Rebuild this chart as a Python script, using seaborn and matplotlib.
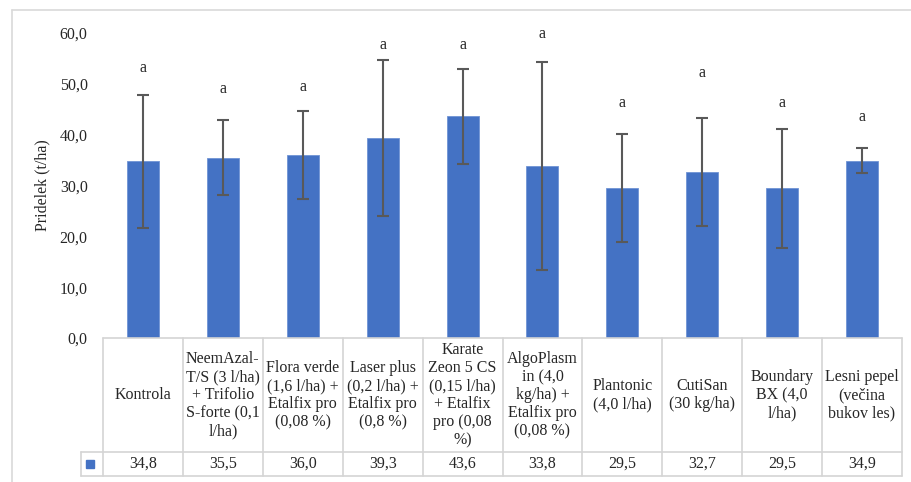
import pandas as pd
import seaborn as sns
import matplotlib.pyplot as plt
from matplotlib.lines import Line2D
from matplotlib.patches import Rectangle
from matplotlib.transforms import blended_transform_factory
from matplotlib.ticker import FuncFormatter

# categories (table header text, wrapped as in the source)
labels = ['Kontrola',
          'NeemAzal-\nT/S (3 l/ha)\n+ Trifolio\nS-forte (0,1\nl/ha)',
          'Flora verde\n(1,6 l/ha) +\nEtalfix pro\n(0,08 %)',
          'Laser plus\n(0,2 l/ha) +\nEtalfix pro\n(0,8 %)',
          'Karate\nZeon 5 CS\n(0,15 l/ha)\n+ Etalfix\npro (0,08\n%)',
          'AlgoPlasm\nin (4,0\nkg/ha) +\nEtalfix pro\n(0,08 %)',
          'Plantonic\n(4,0 l/ha)',
          'CutiSan\n(30 kg/ha)',
          'Boundary\nBX (4,0\nl/ha)',
          'Lesni pepel\n(večina\nbukov les)']
yields = [34.8, 35.5, 36.0, 39.3, 43.6, 33.8, 29.5, 32.7, 29.5, 34.9]
errors = [13.1, 7.3, 8.6, 15.3, 9.4, 20.4, 10.6, 10.6, 11.7, 2.5]
letters = ['a'] * 10
letter_y = [53.2, 49.0, 49.3, 57.7, 57.7, 59.8, 46.2, 52.2, 46.2, 43.5]

df = pd.DataFrame({'cat': [str(i) for i in range(10)], 'val': yields})

sns.set_style('white')
plt.rcParams['font.family'] = ['Liberation Serif', 'DejaVu Serif']

W, H = 911, 482
fig = plt.figure(figsize=(W / 100, H / 100), dpi=100)

def fy(p):
    # figure pixel row -> figure fraction
    return 1 - p / H

ax = fig.add_axes([103 / W, fy(338), (902 - 103) / W, (338 - 33) / H])
blue = '#4472C4'
sns.barplot(data=df, x='cat', y='val', color=blue, width=0.4, ax=ax,
            saturation=1, errorbar=None, edgecolor='#6f93d4', linewidth=0.6)
ax.errorbar(range(10), yields, yerr=errors, fmt='none', ecolor='#595959',
            elinewidth=1.5, capsize=4.5, capthick=1.5)
for i, (t, yy) in enumerate(zip(letters, letter_y)):
    ax.text(i, yy, t, ha='center', va='center', fontsize=11.5, clip_on=False)

ax.set_xlim(-0.5, 9.5)
ax.set_ylim(0, 60)
ax.set_yticks(range(0, 61, 10))
ax.yaxis.set_major_formatter(FuncFormatter(lambda v, p: f'{v:.1f}'.replace('.', ',')))
ax.tick_params(axis='y', length=0, pad=11, labelsize=11.5)
ax.set_xticks([])
ax.set_xlabel('')
ax.set_ylabel('Pridelek (t/ha)', fontsize=11.5, labelpad=7)
for s in ax.spines.values():
    s.set_visible(False)

# data table below the plot
tr = blended_transform_factory(ax.transData, fig.transFigure)
grid = '#d4d4d4'
key_x = -0.5 - 22 / 80
top, mid, bot = fy(338), fy(452), fy(476)

def hline(x0, x1, y):
    fig.add_artist(Line2D([x0, x1], [y, y], color=grid, lw=1.2, transform=tr))

def vline(x, y0, y1):
    fig.add_artist(Line2D([x, x], [y0, y1], color=grid, lw=1.2, transform=tr))

hline(-0.5, 9.5, top)
hline(key_x, 9.5, mid)
hline(key_x, 9.5, bot)
for k in range(11):
    vline(k - 0.5, top, bot)
vline(key_x, mid, bot)

for i, lab in enumerate(labels):
    fig.text(i, (top + mid) / 2, lab, ha='center', va='center', fontsize=11.5,
             linespacing=1.17, transform=tr)
    fig.text(i, (mid + bot) / 2, f'{yields[i]:.1f}'.replace('.', ','),
             ha='center', va='center', fontsize=11.5, transform=tr)

fig.add_artist(Rectangle((86 / W, fy(468)), 8 / W, 8 / H, color=blue,
                         transform=fig.transFigure))

# outer chart border
fig.add_artist(Line2D([12 / W, 1], [fy(10), fy(10)], color='#d9d9d9', lw=1.2))
fig.add_artist(Line2D([12 / W, 12 / W], [fy(10), 0], color='#d9d9d9', lw=1.2))

fig.savefig('out.png', dpi=100)
